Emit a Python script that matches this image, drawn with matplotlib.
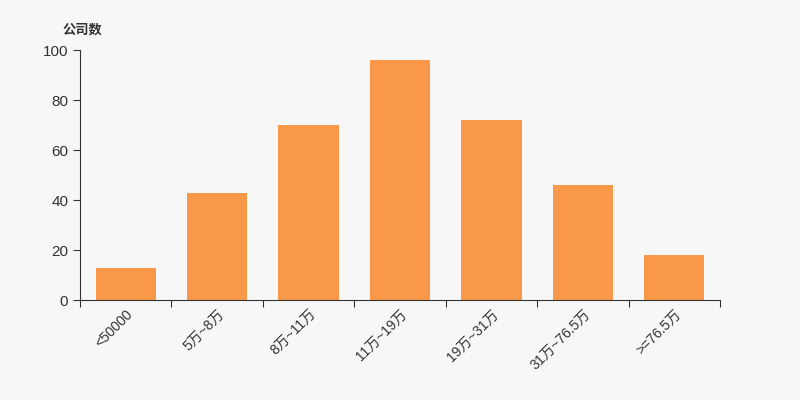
import numpy as np
import matplotlib.pyplot as plt

plt.rcParams['font.family'] = ['Liberation Sans', 'Noto Sans CJK SC', 'DejaVu Sans']

categories = ['<50000', '5万~8万', '8万~11万', '11万~19万', '19万~31万', '31万~76.5万', '>=76.5万']
counts = [13, 43, 70, 96, 72, 46, 18]

bg = '#f7f7f7'
fig = plt.figure(figsize=(8, 4), dpi=100, facecolor=bg)
ax = fig.add_axes([0.1, 0.25, 0.8, 0.625], facecolor=bg)

x = np.arange(len(categories))
ax.bar(x, counts, width=0.66, color='#f89848')

ax.set_xlim(-0.5, len(categories) - 0.5)
ax.set_ylim(0, 100)
ax.set_yticks([0, 20, 40, 60, 80, 100])

# major ticks at category edges, labels on minor ticks at bar centres
ax.set_xticks(np.arange(-0.5, len(categories), 1.0))
ax.set_xticklabels([])
ax.set_xticks(x, minor=True)
ax.set_xticklabels(categories, minor=True, rotation=45, ha='right',
                   rotation_mode='anchor', fontsize=10, color='#333333')
ax.tick_params(axis='x', which='minor', length=0, pad=5)
ax.tick_params(axis='x', which='major', length=5, color='#333333')
ax.tick_params(axis='y', length=5, color='#333333', labelsize=11, labelcolor='#333333')

for side in ['top', 'right']:
    ax.spines[side].set_visible(False)
for side in ['left', 'bottom']:
    ax.spines[side].set_color('#333333')

fig.text(0.078, 0.915, '公司数', fontsize=9.5, fontweight='bold', color='#333333')

fig.savefig('out.png', dpi=100, facecolor=bg)
